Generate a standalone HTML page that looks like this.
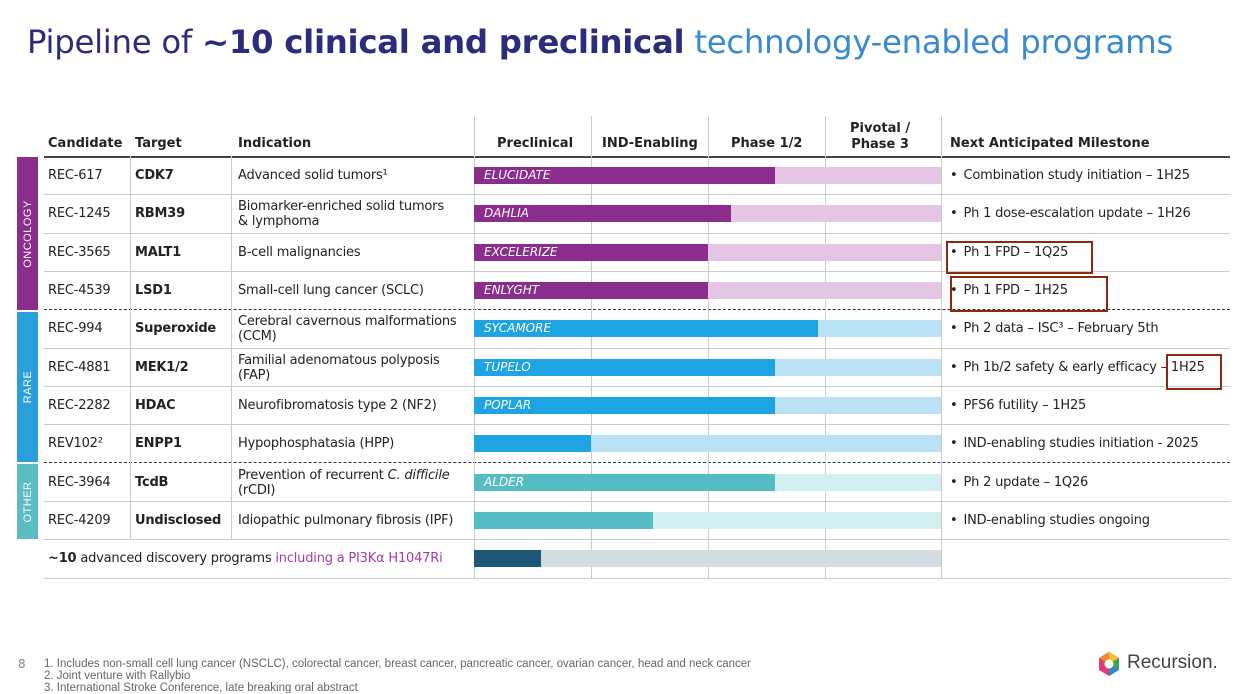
<!DOCTYPE html>
<html><head><meta charset="utf-8">
<style>
body{margin:0;width:1255px;height:693px;background:#fff;position:relative;overflow:hidden;font-family:"DejaVu Sans","Liberation Sans",sans-serif;color:#222}
.a{position:absolute;white-space:nowrap}
.t{font-size:13px;letter-spacing:-0.2px}
.h{font-size:13px;font-weight:bold}
.b{font-weight:bold}
.hl{position:absolute;height:1px;background:#ccc}
.vl{position:absolute;width:1px;background:#ccc}
.bar{z-index:2}
.side{position:absolute;left:17px;width:21px}
.side span{position:absolute;left:50%;top:50%;transform:translate(-50%,-50%) rotate(-90deg);color:#fff;font-size:11px;font-family:"Liberation Sans",sans-serif;letter-spacing:.5px}
.box{position:absolute;border:2px solid #8a2a10;z-index:3}
</style></head><body>
<div class="a" style="left:27px;top:23px;font-size:32.4px;color:#2b2d7c;font-family:'DejaVu Sans',sans-serif;letter-spacing:-0.3px">Pipeline of <b>~10 clinical and preclinical</b> <span style="color:#3a8ad0">technology-enabled programs</span></div>

<div class="a h" style="left:48px;top:136px">Candidate</div>
<div class="a h" style="left:135px;top:136px">Target</div>
<div class="a h" style="left:238px;top:136px">Indication</div>
<div class="a h" style="left:497px;top:136px">Preclinical</div>
<div class="a h" style="left:602px;top:136px">IND-Enabling</div>
<div class="a h" style="left:731px;top:136px">Phase 1/2</div>
<div class="a h" style="left:850px;top:121px;text-align:center;line-height:16px">Pivotal /<br>Phase 3</div>
<div class="a h" style="left:950px;top:136px">Next Anticipated Milestone</div>
<div class="hl" style="left:44px;top:156px;width:1186px;height:2px;background:#444"></div>

<div class="side" style="top:157px;height:153px;background:#8b2d8d"><span>ONCOLOGY</span></div>
<div class="side" style="top:312px;height:150px;background:#2a9fdc"><span>RARE</span></div>
<div class="side" style="top:464px;height:75px;background:#5bbcc4"><span>OTHER</span></div>

<div id="tbl"></div>

<div class="a" style="left:18px;top:657px;font-size:12px;color:#888">8</div>
<div class="a" style="left:44px;top:658px;font-size:11.5px;color:#666;line-height:12px;font-family:'Liberation Sans',sans-serif">1. Includes non-small cell lung cancer (NSCLC), colorectal cancer, breast cancer, pancreatic cancer, ovarian cancer, head and neck cancer<br>2. Joint venture with Rallybio<br>3. International Stroke Conference, late breaking oral abstract</div>
<svg class="a" style="left:1097px;top:651px" width="24" height="26" viewBox="0 0 24 26">
<polygon points="12,1 22,7 22,19 12,25 2,19 2,7" fill="#e23b7a"/><polygon points="12,1 22,7 12,13" fill="#f6c030"/><polygon points="22,7 22,19 12,13" fill="#3aa65a"/><polygon points="22,19 12,25 12,13" fill="#2a8ad0"/><polygon points="2,7 12,1 12,13" fill="#f08a30"/><circle cx="12" cy="13" r="4.5" fill="#fff"/></svg>
<div class="a" style="left:1127px;top:652px;font-size:19px;color:#444;font-family:'Liberation Sans',sans-serif">Recursion.</div>

<script>
const candidates=["REC-617","REC-1245","REC-3565","REC-4539","REC-994","REC-4881","REC-2282","REV102²","REC-3964","REC-4209"];
const targets=["CDK7","RBM39","MALT1","LSD1","Superoxide","MEK1/2","HDAC","ENPP1","TcdB","Undisclosed"];
const indications=["Advanced solid tumors¹","Biomarker-enriched solid tumors<br>&amp; lymphoma","B-cell malignancies","Small-cell lung cancer (SCLC)","Cerebral cavernous malformations<br>(CCM)","Familial adenomatous polyposis<br>(FAP)","Neurofibromatosis type 2 (NF2)","Hypophosphatasia (HPP)","Prevention of recurrent <i>C. difficile</i><br>(rCDI)","Idiopathic pulmonary fibrosis (IPF)"];
const programs=["ELUCIDATE","DAHLIA","EXCELERIZE","ENLYGHT","SYCAMORE","TUPELO","POPLAR","","ALDER",""];
const progress=[2.58,2.2,2.0,2.0,2.95,2.58,2.58,1.0,2.58,1.53];
const groups=["onc","onc","onc","onc","rare","rare","rare","rare","other","other"];
const milestones=["Combination study initiation – 1H25","Ph 1 dose-escalation update – 1H26","Ph 1 FPD – 1Q25","Ph 1 FPD – 1H25","Ph 2 data – ISC³ – February 5th","Ph 1b/2 safety &amp; early efficacy – 1H25","PFS6 futility – 1H25","IND-enabling studies initiation - 2025","Ph 2 update – 1Q26","IND-enabling studies ongoing"];
const discoveryProgress=0.57;

const colors={onc:["#8b2d8d","#e4c6e4"],rare:["#1ea4e2","#bbe1f5"],other:["#55bcc4","#d4eff1"],disc:["#1d5878","#d3dce1"]};
const X0=474,STAGE=116.75,Y0=156,ROWH=38.3;
const xs=v=>X0+v*STAGE;
const T=document.getElementById('tbl');
function mk(cls,css,html){const d=document.createElement('div');d.className=cls;d.style.cssText=css;if(html!==undefined)d.innerHTML=html;T.appendChild(d);return d;}
for(let i=0;i<candidates.length;i++){
  const top=Y0+i*ROWH, mid=top+ROWH/2;
  let d=mk('a t','left:48px;top:'+(mid-7)+'px',candidates[i]);
  
  
  d=mk('a t b','left:135px;top:'+(mid-7)+'px',targets[i]);
  
  
  const two=indications[i].includes('<br>');
  d=mk('a t','left:238px;line-height:15px;top:'+(mid-(two?14:7))+'px',indications[i]);
  
  
  const c=colors[groups[i]];
  d=mk('a bar','left:'+X0+'px;top:'+(mid-8)+'px;width:'+(xs(4)-X0)+'px;height:17px;background:'+c[1]);
  
  
  d=mk('a bar','left:'+X0+'px;top:'+(mid-8)+'px;width:'+(xs(progress[i])-X0)+'px;height:17px;background:'+c[0]+';color:#fff;font-style:italic;font-size:12px;line-height:17px;box-sizing:border-box;padding-left:10px',programs[i]);
  
  
  d=mk('a t','left:950px;top:'+(mid-7)+'px','•<span style="margin-left:6px">'+milestones[i]+'</span>');
  
  
  if(i<candidates.length-1){
    const dash=(i==3||i==7);
    d=mk(dash?'a':'hl',dash?'left:44px;top:'+(top+ROWH)+'px;width:1186px;border-top:1px dashed #333':'left:44px;top:'+(top+ROWH)+'px;width:1186px');
    
    
  }
}
const lastTop=Y0+candidates.length*ROWH;
let d=mk('hl','left:44px;top:'+lastTop+'px;width:1186px');


d=mk('a t','left:48px;top:'+(lastTop+12)+'px','<b>~10</b> advanced discovery programs <span style="color:#a23ca8">including a PI3Kα H1047Ri</span>');


d=mk('a bar','left:'+X0+'px;top:'+(lastTop+11)+'px;width:'+(xs(4)-X0)+'px;height:17px;background:'+colors.disc[1]);


d=mk('a bar','left:'+X0+'px;top:'+(lastTop+11)+'px;width:'+(xs(discoveryProgress)-X0)+'px;height:17px;background:'+colors.disc[0]);


d=mk('hl','left:44px;top:'+(lastTop+39)+'px;width:1186px');


[[130,156,lastTop],[231,156,lastTop],[474,116,lastTop+39],[591,116,lastTop+39],[708,116,lastTop+39],[825,116,lastTop+39],[941,116,lastTop+39]].forEach(v=>{
  const e=mk('vl','left:'+v[0]+'px;top:'+v[1]+'px;height:'+(v[2]-v[1])+'px');
  
  
});
[[946,241,143,29],[950,276,154,32],[1166,354,52,32]].forEach(b=>{
  const e=mk('box','left:'+b[0]+'px;top:'+b[1]+'px;width:'+b[2]+'px;height:'+b[3]+'px');
  
  
});
</script>
</body></html>
